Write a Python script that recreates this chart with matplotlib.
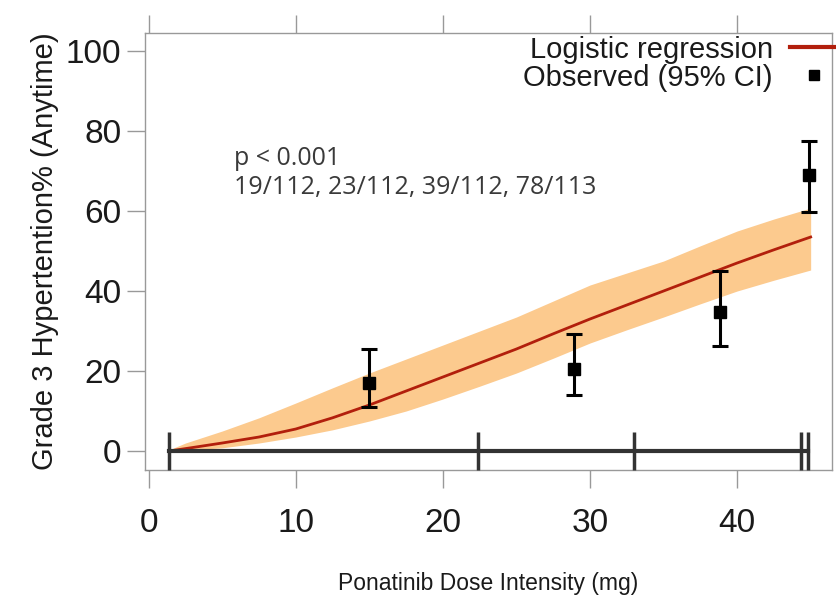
import numpy as np
import matplotlib.pyplot as plt

plt.rcParams["font.family"] = ["Liberation Sans", "DejaVu Sans"]

# logistic regression fit
dose = [1.4, 2.5, 5, 7.5, 10, 12.5, 15, 17.5, 20, 22.5, 25, 27.5, 30, 32.5, 35, 37.5, 40, 42.5, 45]
fit = [0, 0.6, 2, 3.5, 5.5, 8.3, 11.5, 15, 18.5, 22, 25.5, 29.3, 33, 36.5, 40, 43.5, 47, 50.3, 53.5]
fit_hi = [0.3, 2, 5, 8.3, 12, 15.8, 19.5, 23, 26.5, 30, 33.5, 37.5, 41.5, 44.5, 47.5, 51.3, 55, 58, 60.75]
fit_lo = [0, 0.2, 0.8, 2, 3.5, 5.3, 7.5, 10, 13, 16.2, 19.5, 23.2, 27, 30.3, 33.5, 36.8, 40, 42.7, 45.25]

# observed rates by dose quartile
obs_dose = [15, 28.9, 38.85, 44.9]
obs_pct = [17.0, 20.5, 34.8, 69.0]
obs_hi = [25.5, 29.2, 45.0, 77.5]
obs_lo = [11.0, 14.0, 26.3, 59.8]

# quartile boundaries of dose intensity
quart = [1.4, 22.4, 33.0, 44.35, 44.85]

fig = plt.figure(figsize=(8.36, 5.97), dpi=100)
ax = fig.add_axes([0.1734, 0.2127, 0.8218, 0.732])

ax.fill_between(dose, fit_lo, fit_hi, color="#fcca8e", lw=0, zorder=1)
ax.plot(dose, fit, color="#b21f0c", lw=2, zorder=2)

yerr = [np.array(obs_pct) - np.array(obs_lo), np.array(obs_hi) - np.array(obs_pct)]
ax.errorbar(obs_dose, obs_pct, yerr=yerr, fmt="s", color="black", ms=9, elinewidth=2.2,
            capsize=6, capthick=2.2, zorder=4)

ax.plot(quart, np.zeros(len(quart)), color="#333333", lw=3, marker="|", ms=28, mew=2.5, zorder=3)

ax.set_xlim(-0.25, 46.45)
ax.set_ylim(-4.75, 104.5)
ax.set_xticks([0, 10, 20, 30, 40])
ax.set_yticks([0, 20, 40, 60, 80, 100])
ax.tick_params(axis="both", labelsize=24, labelcolor="#1a1a1a", length=13, width=1,
               color="#999999", top=True)
ax.tick_params(axis="x", pad=14)
ax.tick_params(axis="y", pad=4)
for s in ax.spines.values():
    s.set_color("#999999")
    s.set_linewidth(1)

ax.set_xlabel("Ponatinib Dose Intensity (mg)", fontsize=16.5, labelpad=24, color="#1a1a1a")
ax.set_ylabel("Grade 3 Hypertention% (Anytime)", fontsize=21, labelpad=5, color="#1a1a1a")

ax.text(5.8, 69.5, "p < 0.001\n19/112, 23/112, 39/112, 78/113", fontsize=18, color="#3a3a3a",
        family=["Open Sans", "DejaVu Sans"], va="center", linespacing=1.25)

# legend entries
h_line, = ax.plot([], [], color="#b21f0c", lw=3)
h_obs, = ax.plot([], [], "s", color="black", ms=7)
ax.legend([h_line, h_obs], ["Logistic regression", "Observed (95% CI)"],
          loc="upper right", bbox_to_anchor=(1.001, 0.9405), bbox_transform=fig.transFigure,
          markerfirst=False, frameon=False, fontsize=21, labelcolor="#1a1a1a", handlelength=1.6,
          handletextpad=0.6, borderpad=0, borderaxespad=0, labelspacing=0.0, numpoints=1)

fig.savefig("out.png", dpi=100)
